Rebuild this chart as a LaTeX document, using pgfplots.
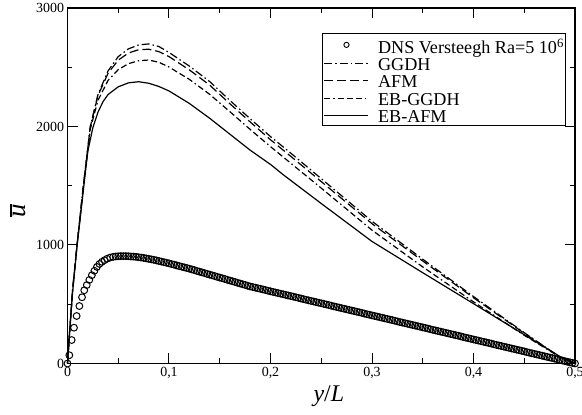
\documentclass[border=0pt]{standalone}
\usepackage{fontspec}
\setmainfont{Liberation Serif}
\usepackage{pgfplots}
\pgfplotsset{compat=1.18}

% u with a bar over it, for the y label
\newsavebox\ubox
\newcommand\ubar{\sbox\ubox{\textit{u}}\rlap{\raisebox{\dimexpr\ht\ubox+1.5bp\relax}{\rule{\wd\ubox}{1.3bp}}}\usebox\ubox}
\newcommand\ls{\rule[-4bp]{0pt}{19.8bp}}

\begin{document}
\begin{tikzpicture}
\begin{axis}[
    width=507.5bp, height=355.5bp, scale only axis,
    xmin=0, xmax=0.5, ymin=0, ymax=3000,
    xtick={0,0.1,0.2,0.3,0.4,0.5}, ytick={0,1000,2000,3000},
    minor x tick num=1, minor y tick num=1,
    tick align=inside,
    major tick length=10bp, minor tick length=5bp,
    every tick/.style={black, line width=1bp},
    axis line style={line width=1.5bp},
    /pgf/number format/.cd, use comma, 1000 sep={}, assume math mode=true,
    /pgfplots/.cd,
    tick label style={font=\fontsize{14}{16}\selectfont},
    xlabel={\textit{y}/\textit{L}},
    ylabel={\ubar},
    xlabel style={font=\fontsize{24}{26}\selectfont, at={(axis description cs:0.515,-0.091)}, anchor=center},
    ylabel style={font=\fontsize{27}{29}\selectfont, at={(axis description cs:-0.0975,0.43)}, anchor=center},
    clip=false,
    legend cell align=left,
    legend image code/.code={\path[draw=none, fill=none] (0bp,-1bp) rectangle (44bp,1bp);
        \draw[mark repeat=2,mark phase=2,#1] plot coordinates {(0bp,0bp) (22bp,0bp) (44bp,0bp)};},
    legend style={at={(0.982,0.93)}, anchor=north east, draw=black, line width=1bp,
        font=\fontsize{18.2}{20}\selectfont, inner sep=1.5bp, row sep=0pt,
        nodes={inner sep=0pt},
        /tikz/every odd column/.append style={column sep=9bp}},
]
\addlegendimage{only marks, mark=o, mark size=2.6bp, line width=0.9bp}
\addlegendentry{\rule[-4bp]{0pt}{22.5bp}DNS Versteegh Ra=5 10\textsuperscript{6}}

\addplot[only marks, mark=o, mark size=3.4bp, line width=1bp, forget plot] table {
x y
0 0
0.0018 70
0.0041 198
0.0064 302
0.009 401
0.0117 485
0.0143 559
0.0165 618
0.019 662
0.0215 705
0.024 745
0.0265 782
0.029 815
0.0315 840
0.034 858
0.0365 872
0.039 884
0.042 894
0.045 900
0.0475 903
0.05 905
0.0525 906
0.055 906
0.0575 906
0.06 905
0.0625 903
0.065 902
0.0675 900
0.07 897
0.0725 894
0.075 891
0.0775 887
0.08 883
0.0825 879
0.085 875
0.0875 870
0.09 865
0.0925 860
0.095 855
0.0975 850
0.1 845
0.1025 839
0.105 834
0.1075 828
0.11 822
0.1125 817
0.115 811
0.1175 806
0.12 800
0.1225 794
0.125 788
0.1275 781
0.13 775
0.1325 769
0.135 763
0.1375 756
0.14 750
0.1425 744
0.145 738
0.1475 731
0.15 725
0.1525 719
0.155 713
0.1575 706
0.16 700
0.1625 694
0.165 688
0.1675 681
0.17 675
0.1725 669
0.175 663
0.1775 656
0.18 650
0.1825 645
0.185 640
0.1875 635
0.19 630
0.1925 625
0.195 620
0.1975 614
0.2 609
0.2025 604
0.205 599
0.2075 594
0.21 589
0.2125 584
0.215 579
0.2175 574
0.22 569
0.2225 564
0.225 559
0.2275 554
0.23 548
0.2325 543
0.235 538
0.2375 533
0.24 528
0.2425 523
0.245 518
0.2475 513
0.25 508
0.2525 503
0.255 498
0.2575 493
0.26 487
0.2625 482
0.265 477
0.2675 472
0.27 467
0.2725 462
0.275 457
0.2775 452
0.28 447
0.2825 442
0.285 437
0.2875 432
0.29 427
0.2925 421
0.295 416
0.2975 411
0.3 406
0.3025 401
0.305 396
0.3075 391
0.31 386
0.3125 381
0.315 376
0.3175 371
0.32 366
0.3225 361
0.325 355
0.3275 350
0.33 345
0.3325 340
0.335 335
0.3375 330
0.34 325
0.3425 320
0.345 315
0.3475 310
0.35 305
0.3525 300
0.355 295
0.3575 289
0.36 284
0.3625 279
0.365 274
0.3675 269
0.37 264
0.3725 259
0.375 254
0.3775 249
0.38 244
0.3825 239
0.385 234
0.3875 229
0.39 223
0.3925 218
0.395 213
0.3975 208
0.4 203
0.4025 198
0.405 193
0.4075 188
0.41 183
0.4125 178
0.415 173
0.4175 168
0.42 162
0.4225 157
0.425 152
0.4275 147
0.43 142
0.4325 137
0.435 132
0.4375 127
0.44 122
0.4425 117
0.445 112
0.4475 107
0.45 102
0.4525 96
0.455 91
0.4575 86
0.46 81
0.4625 76
0.465 71
0.4675 66
0.47 61
0.4725 56
0.475 51
0.4775 46
0.48 41
0.4825 36
0.485 30
0.4875 25
0.49 20
0.4925 15
0.495 10
0.4975 5
0.5 0
};

% GGDH
\addplot[black, line width=1.2bp, dash pattern=on 8bp off 3bp on 1.5bp off 3bp] coordinates {
(0,0) (0.002,260) (0.005,620) (0.0095,1010) (0.016,1530) (0.0225,2000) (0.03,2270)
(0.04,2470) (0.05,2590) (0.06,2655) (0.07,2688) (0.08,2697) (0.09,2675) (0.1,2625)
(0.12,2510) (0.14,2380) (0.16,2220) (0.18,2065) (0.2,1915) (0.22,1775) (0.25,1560)
(0.3,1200) (0.35,880) (0.4,565) (0.45,260) (0.485,55) (0.5,0)
};
\addlegendentry{\ls GGDH}

% AFM
\addplot[black, line width=1.2bp, dash pattern=on 9bp off 4bp] coordinates {
(0,0) (0.002,260) (0.005,620) (0.0095,1010) (0.016,1530) (0.0225,2000) (0.03,2260)
(0.04,2450) (0.05,2560) (0.06,2620) (0.07,2648) (0.08,2652) (0.09,2632) (0.1,2590)
(0.12,2478) (0.14,2350) (0.16,2192) (0.18,2038) (0.2,1888) (0.22,1748) (0.25,1535)
(0.3,1180) (0.35,865) (0.4,555) (0.45,255) (0.485,55) (0.5,0)
};
\addlegendentry{\ls AFM}

% EB-GGDH
\addplot[black, line width=1.2bp, dash pattern=on 6bp off 3bp on 1.5bp off 3bp on 6bp off 3bp on 6bp off 3bp] coordinates {
(0,0) (0.002,255) (0.005,610) (0.0095,1005) (0.016,1515) (0.0225,1980) (0.03,2220)
(0.04,2390) (0.05,2480) (0.06,2530) (0.07,2555) (0.08,2561) (0.09,2542) (0.1,2502)
(0.12,2398) (0.14,2272) (0.16,2125) (0.18,1975) (0.2,1830) (0.22,1690) (0.25,1480)
(0.3,1125) (0.35,815) (0.4,520) (0.45,238) (0.485,55) (0.5,0)
};
\addlegendentry{\ls EB-GGDH}

% EB-AFM
\addplot[black, line width=1.2bp] coordinates {
(0,0) (0.002,250) (0.005,600) (0.0095,1000) (0.016,1490) (0.02,1790) (0.025,1990)
(0.03,2120) (0.035,2210) (0.04,2270) (0.05,2335) (0.06,2368) (0.07,2378) (0.08,2365)
(0.09,2338) (0.1,2300) (0.12,2195) (0.14,2070) (0.16,1935) (0.18,1800) (0.2,1680)
(0.213,1590) (0.25,1350) (0.3,1030) (0.35,766) (0.4,505) (0.45,243) (0.485,60) (0.5,0)
};
\addlegendentry{\ls EB-AFM}
\end{axis}
\pgfresetboundingbox
\path[use as bounding box] ([xshift=-67.5bp,yshift=-51.5bp]current axis.south west)
    rectangle ([xshift=7bp,yshift=8bp]current axis.north east);
\end{tikzpicture}
\end{document}
